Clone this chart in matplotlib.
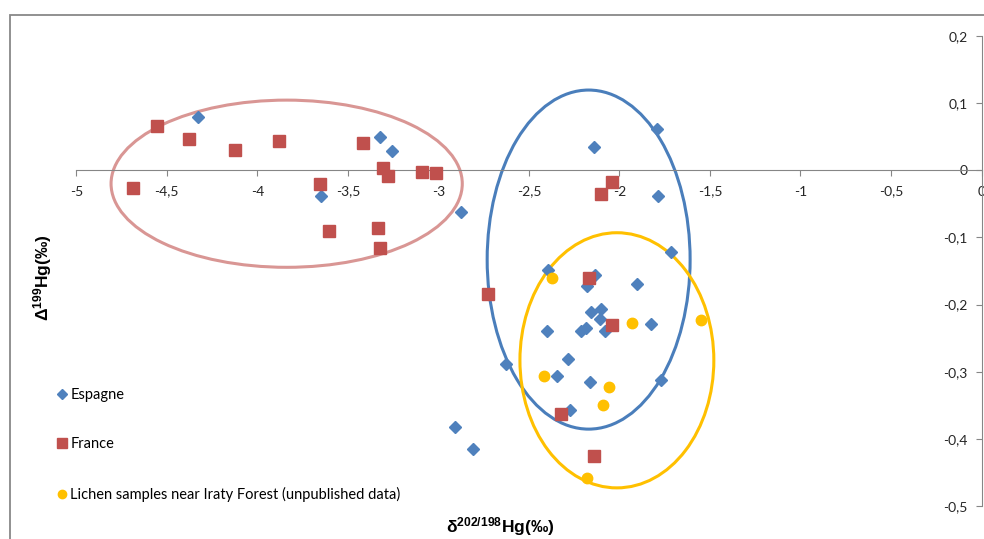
import matplotlib
matplotlib.use("Agg")
import matplotlib.pyplot as plt
from matplotlib.patches import Ellipse, Rectangle
from matplotlib.ticker import FuncFormatter, MultipleLocator

plt.rcParams["font.family"] = ["Lato", "DejaVu Sans"]
plt.rcParams["mathtext.fontset"] = "custom"
plt.rcParams["mathtext.rm"] = "Liberation Sans"
plt.rcParams["mathtext.bf"] = "Liberation Sans:bold"

# Spain samples (delta 202/198 Hg, Delta 199 Hg), per mil
esp_x = [-4.327, -3.321, -3.255, -3.648, -2.874, -2.143, -1.791, -1.786,
         -1.713, -2.396, -2.137, -2.181, -1.903, -2.158, -2.099, -2.106,
         -2.081, -2.210, -2.185, -1.824, -2.402, -2.627, -2.285, -2.344,
         -2.164, -1.770, -2.273, -2.909, -2.811]
esp_y = [0.080, 0.050, 0.029, -0.039, -0.062, 0.035, 0.061, -0.039,
         -0.121, -0.148, -0.156, -0.173, -0.169, -0.211, -0.207, -0.222,
         -0.239, -0.239, -0.235, -0.229, -0.240, -0.289, -0.281, -0.307,
         -0.315, -0.313, -0.357, -0.383, -0.415]

# France samples
fra_x = [-4.552, -4.375, -4.124, -3.882, -3.419, -3.304, -3.279, -3.089,
         -3.013, -4.688, -3.653, -3.605, -3.332, -3.321, -2.043, -2.104,
         -2.725, -2.168, -2.041, -2.325, -2.139]
fra_y = [0.066, 0.046, 0.030, 0.043, 0.040, 0.004, -0.009, -0.003,
         -0.004, -0.027, -0.020, -0.091, -0.086, -0.116, -0.017, -0.036,
         -0.184, -0.161, -0.231, -0.363, -0.426]

# Lichen samples near Iraty Forest
lich_x = [-2.371, -1.930, -1.551, -2.419, -2.058, -2.089, -2.179]
lich_y = [-0.160, -0.227, -0.223, -0.306, -0.323, -0.350, -0.459]

# Grouping ellipses: (centre x, centre y, width, height, colour)
groups = [
    (-3.838, -0.020, 1.940, 0.249, "#D99694"),
    (-2.170, -0.133, 1.121, 0.505, "#4A7EBB"),
    (-2.014, -0.283, 1.071, 0.380, "#FFC000"),
]

BLUE = "#4F81BD"
RED = "#C0504D"
GOLD = "#FFC000"
AXIS = "#868686"

fig = plt.figure(figsize=(9.84, 5.39), dpi=100)
fig.patches.append(Rectangle((9.5 / 984, -0.1), 1.2, 1.1 - 14.7 / 539,
                             transform=fig.transFigure, fill=False,
                             edgecolor="#888888", lw=1.3))
ax = fig.add_axes([76.3 / 984, 1 - 506 / 539, 905.2 / 984, 470 / 539])
ax.set_xlim(-5, 0)
ax.set_ylim(-0.5, 0.2)
ax.patch.set_alpha(0)

for cx, cy, w, h, c in groups:
    ax.add_patch(Ellipse((cx, cy), w, h, fill=False, edgecolor=c, lw=2.2,
                         zorder=2))

h_esp, = ax.plot(esp_x, esp_y, "D", ms=6.4, color=BLUE, mec=BLUE,
                 ls="none", zorder=3, clip_on=False, label="Espagne")
h_fra, = ax.plot(fra_x, fra_y, "s", ms=9, color=RED, mec=RED,
                 ls="none", zorder=3, clip_on=False, label="France")
h_lich, = ax.plot(lich_x, lich_y, "o", ms=7.5, color=GOLD, mec=GOLD,
                  ls="none", zorder=3, clip_on=False,
                  label="Lichen samples near Iraty Forest (unpublished data)")

for side in ("top", "right"):
    ax.spines[side].set_visible(False)
ax.spines["left"].set_position(("data", 0))
ax.spines["bottom"].set_position(("data", 0))
for side in ("left", "bottom"):
    ax.spines[side].set_color(AXIS)
    ax.spines[side].set_linewidth(0.8)

comma = FuncFormatter(lambda v, _: f"{round(v, 2):g}".replace(".", ","))
ax.xaxis.set_major_locator(MultipleLocator(0.5))
ax.yaxis.set_major_locator(MultipleLocator(0.1))
ax.xaxis.set_major_formatter(comma)
ax.yaxis.set_major_formatter(comma)
ax.tick_params(axis="both", direction="out", length=4, width=0.8,
               color=AXIS, labelcolor="#262626", labelsize=10)
ax.tick_params(axis="x", pad=7)
ax.tick_params(axis="y", pad=6)

fig.text(43 / 984, 1 - 278 / 539, r"$\mathbf{\Delta^{199}Hg(‰)}$",
         rotation=90, ha="center", va="center", fontsize=12.5)
fig.text(500 / 984, 1 - 527 / 539, r"$\mathbf{\delta^{202/198}Hg(‰)}$",
         ha="center", va="center", fontsize=12.5)

fig.legend(handles=[h_esp, h_fra, h_lich], loc="center left",
           bbox_to_anchor=(44 / 984, 1 - 445 / 539), frameon=False,
           fontsize=10.5, handlelength=0.6, handletextpad=0.3,
           labelspacing=2.45, markerscale=0.8)

fig.savefig("out.png", dpi=100)
